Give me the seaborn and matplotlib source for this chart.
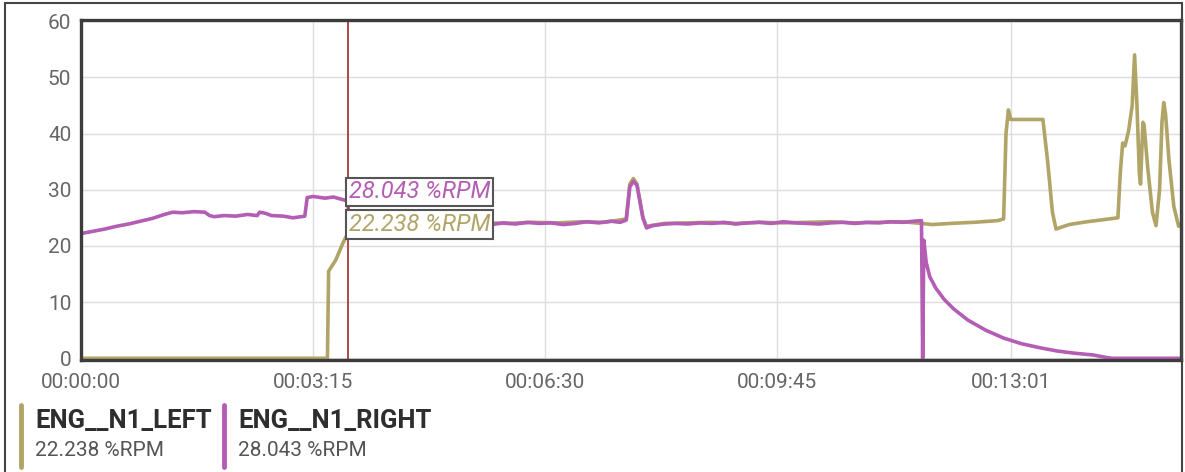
import matplotlib
matplotlib.use('Agg')
import matplotlib.pyplot as plt
from matplotlib.lines import Line2D
from matplotlib.patches import Rectangle
import seaborn as sns

# time in seconds from start, values in %RPM
t_right = [0, 10, 20, 30, 40, 50, 60, 70, 77, 85, 95, 104, 108, 112, 120, 130,
           140, 148, 150, 155, 160, 170, 178, 185, 188, 190, 195, 205, 212, 224,
           226, 235, 245, 255, 265, 275, 285, 295, 305, 315, 325, 335, 345, 355,
           365, 375, 385, 395, 405, 415, 425, 435, 445, 453, 458, 461, 464, 467,
           472, 475, 480, 490, 500, 510, 520, 530, 540, 550, 560, 570, 580, 590,
           600, 610, 620, 630, 640, 650, 660, 670, 680, 690, 700, 706, 707, 708,
           710, 713, 718, 725, 733, 745, 760, 775, 790, 805, 820, 835, 850, 860,
           866, 924]
n1_right = [22.2, 22.6, 23.0, 23.5, 23.9, 24.4, 24.9, 25.6, 26.0, 25.9, 26.1, 26.0,
            25.4, 25.2, 25.4, 25.3, 25.6, 25.4, 26.0, 25.8, 25.4, 25.3, 25.0, 25.2,
            25.3, 28.6, 28.8, 28.5, 28.7, 28.0, 22.0, 21.8, 22.6, 23.3, 23.8, 24.1,
            23.9, 24.2, 24.0, 23.9, 24.1, 24.0, 23.8, 24.1, 23.9, 24.2, 24.0, 24.1,
            23.8, 24.0, 24.3, 24.1, 24.4, 24.2, 24.6, 30.5, 31.5, 30.8, 25.0, 23.2,
            23.6, 23.9, 24.0, 23.9, 24.1, 24.0, 24.2, 23.9, 24.1, 24.2, 24.0, 24.3,
            24.1, 24.0, 23.9, 24.1, 24.2, 24.0, 24.2, 24.1, 24.3, 24.2, 24.4, 24.5,
            0.0, 21.0, 17.0, 14.5, 12.5, 10.5, 8.8, 6.8, 5.0, 3.6, 2.6, 1.9, 1.3,
            0.9, 0.6, 0.2, 0.0, 0.0]

t_left = [0, 207, 208, 214, 220, 224, 235, 250, 265, 280, 300, 320, 340, 360, 380,
          400, 420, 440, 458, 461, 464, 467, 472, 475, 490, 510, 530, 550, 570,
          590, 610, 630, 650, 670, 690, 706, 715, 730, 750, 770, 775, 777, 779,
          781, 808, 812, 816, 819, 830, 845, 860, 871, 873, 875, 877, 880, 883,
          885, 887, 889, 890, 892, 893, 896, 900, 903, 906, 908, 909.5, 911, 914,
          918, 922, 924]
n1_left = [0.0, 0.0, 15.5, 17.5, 20.5, 22.2, 22.6, 23.2, 24.0, 24.2, 24.0, 24.3,
           24.1, 24.0, 24.2, 24.1, 24.3, 24.2, 24.8, 31.0, 32.0, 31.0, 25.0, 23.5,
           24.0, 24.1, 24.2, 24.0, 24.2, 24.1, 24.2, 24.3, 24.1, 24.2, 24.3, 24.0,
           23.8, 24.0, 24.2, 24.5, 24.8, 40.0, 44.2, 42.5, 42.5, 35.0, 26.0, 23.0,
           23.8, 24.3, 24.7, 25.0, 33.0, 38.3, 37.8, 40.5, 45.0, 54.0, 45.0, 33.0,
           31.0, 42.0, 41.5, 34.0, 26.0, 23.6, 30.0, 42.0, 45.5, 43.5, 35.0, 27.0,
           23.5, 24.0]

tick_secs = [0, 195, 390, 585, 781]
tick_labels = ['00:00:00', '00:03:15', '00:06:30', '00:09:45', '00:13:01']
cursor_t = 224
left_name, left_val = 'ENG__N1_LEFT', '22.238 %RPM'
right_name, right_val = 'ENG__N1_RIGHT', '28.043 %RPM'

OLIVE = '#b0a466'
PURPLE = '#b45db4'

sns.set_style('white')
plt.rcParams['font.family'] = ['Roboto', 'DejaVu Sans']

fig = plt.figure(figsize=(11.85, 4.72), dpi=100)
ax = fig.add_axes([81 / 1185, 1 - 360 / 472, 1100 / 1185, 340 / 472])

sns.lineplot(x=t_left, y=n1_left, ax=ax, color=OLIVE, lw=2.6)
sns.lineplot(x=t_right, y=n1_right, ax=ax, color=PURPLE, lw=2.6)

ax.set_xlim(0, 924)
ax.set_ylim(-0.3, 60.2)
ax.set_yticks([0, 10, 20, 30, 40, 50, 60])
ax.set_xticks(tick_secs)
ax.set_xticklabels(tick_labels)
ax.grid(True, color='#dcdcdc', lw=1)
ax.set_axisbelow(True)
ax.tick_params(axis='both', length=0, labelsize=15, colors='#666666')
ax.tick_params(axis='x', pad=9)
ax.tick_params(axis='y', pad=7)
for s in ax.spines.values():
    s.set_color('#3c3c3c')
    s.set_linewidth(2.4)

# cursor and value tooltips
ax.axvline(cursor_t, color='#a83a3a', lw=1.3)
box = dict(boxstyle='square,pad=0.12', fc='white', ec='#555555', lw=1.5)
ax.text(cursor_t + 1, 29.6, right_val, color=PURPLE, fontsize=17,
        style='italic', va='center', ha='left', bbox=box)
ax.text(cursor_t + 1, 23.8, left_val, color=OLIVE, fontsize=17,
        style='italic', va='center', ha='left', bbox=box)

# legend under the chart
fig.add_artist(Line2D([21 / 1185, 21 / 1185], [1 - 405 / 472, 1 - 467 / 472],
                      color=OLIVE, lw=3.5))
fig.add_artist(Line2D([224 / 1185, 224 / 1185], [1 - 405 / 472, 1 - 467 / 472],
                      color=PURPLE, lw=3.5))
fig.text(35 / 1185, 1 - 421 / 472, left_name, fontsize=18.5, fontweight='bold',
         color='#2e2e2e', va='center')
fig.text(35 / 1185, 1 - 451 / 472, left_val, fontsize=15, color='#555555',
         va='center')
fig.text(238 / 1185, 1 - 421 / 472, right_name, fontsize=18.5, fontweight='bold',
         color='#2e2e2e', va='center')
fig.text(238 / 1185, 1 - 451 / 472, right_val, fontsize=15, color='#555555',
         va='center')

# screenshot frame
fig.add_artist(Rectangle((5 / 1185, -0.05), 1177 / 1185, 1.05 - 3 / 472,
                         transform=fig.transFigure, fill=False,
                         ec='#444444', lw=1.5))

plt.savefig('out.png', dpi=100)
plt.close()
